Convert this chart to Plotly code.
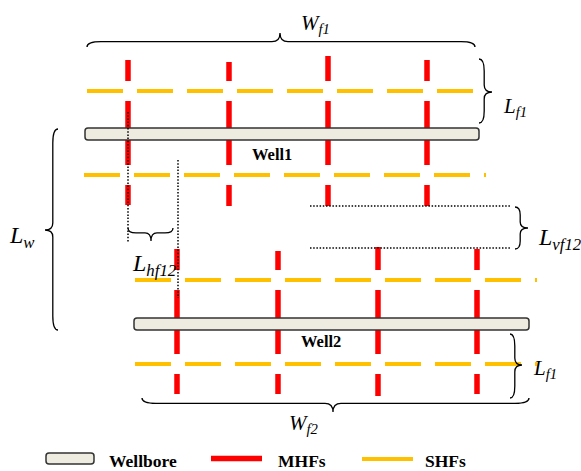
import plotly.graph_objects as go

# ---- schematic data (pixel-space units of the drawing) ----
well_names = ["Well1", "Well2"]
well_x0 = [85, 134]
well_x1 = [479, 529]
well_y0 = [128, 318]
well_y1 = [140, 330]
well_label_xy = [(272, 154), (321, 341)]

mhf_x = [[128, 229, 328, 427], [177, 278, 378, 477]]
mhf_top = [[60, 62, 56, 60], [249, 251, 247, 249]]
mhf_bot = [[205, 206, 206, 206], [394, 394, 396, 394]]

shf_well = [0, 0, 1, 1]
shf_y = [91, 175, 280, 364]
shf_x0 = [87, 84, 135, 135]
shf_x1 = [473, 486, 537, 537]
shf_dash = 36
shf_period = 50
mhf_half_gap = 10

RED = "#FF0000"
YEL = "#FFC000"
WB_FILL = "#EEEBE0"
WB_LINE = "#333333"
FONT = "Liberation Serif, Times New Roman, serif"

shapes = []


def seg(x0, y0, x1, y1, color, width, dash="solid"):
    shapes.append(dict(type="line", xref="x", yref="y", x0=x0, y0=y0, x1=x1, y1=y1,
                       line=dict(color=color, width=width, dash=dash)))


def rrect(x0, y0, x1, y1, r=3):
    p = (f"M{x0+r},{y0} L{x1-r},{y0} Q{x1},{y0} {x1},{y0+r} L{x1},{y1-r} "
         f"Q{x1},{y1} {x1-r},{y1} L{x0+r},{y1} Q{x0},{y1} {x0},{y1-r} "
         f"L{x0},{y0+r} Q{x0},{y0} {x0+r},{y0} Z")
    shapes.append(dict(type="path", xref="x", yref="y", path=p, fillcolor=WB_FILL,
                       line=dict(color=WB_LINE, width=1.5)))


def hbrace(x0, x1, ye, yt, xm, q=14, q2=8):
    ym = ye + (yt - ye) * 0.38
    p = (f"M{x0},{ye} Q{x0},{ym} {x0+q},{ym} L{xm-q2},{ym} Q{xm},{ym} {xm},{yt} "
         f"Q{xm},{ym} {xm+q2},{ym} L{x1-q},{ym} Q{x1},{ym} {x1},{ye}")
    shapes.append(dict(type="path", xref="x", yref="y", path=p,
                       line=dict(color="black", width=1.3)))


def vbrace(y0, y1, xe, xt, ym, q=12, q2=7):
    xm = xe + (xt - xe) * 0.4
    p = (f"M{xe},{y0} Q{xm},{y0} {xm},{y0+q} L{xm},{ym-q2} Q{xm},{ym} {xt},{ym} "
         f"Q{xm},{ym} {xm},{ym+q2} L{xm},{y1-q} Q{xm},{y1} {xe},{y1}")
    shapes.append(dict(type="path", xref="x", yref="y", path=p,
                       line=dict(color="black", width=1.3)))


# SHFs (dashed yellow rows)
for y, a, b in zip(shf_y, shf_x0, shf_x1):
    s = a
    while s < b:
        seg(s, y, min(s + shf_dash, b), y, YEL, 4)
        s += shf_period

# MHFs (red, interrupted at the SHF rows)
for w in range(2):
    rows = sorted(y for y, k in zip(shf_y, shf_well) if k == w)
    for x, t, bt in zip(mhf_x[w], mhf_top[w], mhf_bot[w]):
        cur = t
        for ry in rows:
            seg(x, cur, x, ry - mhf_half_gap, RED, 5.5)
            cur = ry + mhf_half_gap
        seg(x, cur, x, bt, RED, 5.5)

# wellbores
for i in range(2):
    rrect(well_x0[i], well_y0[i], well_x1[i], well_y1[i])

# dotted guide lines
DOT = "1.5px,1.7px"
seg(128, 112, 128, 243, "black", 1.5, DOT)
seg(178, 160, 178, 298, "black", 1.5, DOT)
seg(310, 206, 510, 206, "black", 1.5, DOT)
seg(310, 248, 510, 248, "black", 1.5, DOT)

# braces
hbrace(87, 475, 47, 33, 280)
vbrace(59, 123, 479, 492, 92)
vbrace(129, 330, 58, 45, 230, q=14)
hbrace(128, 173, 228, 241, 151, q=8, q2=6)
vbrace(207, 249, 515, 528, 228, q=8, q2=6)
vbrace(334, 398, 510, 522, 365)
hbrace(142, 529, 398, 412, 333)

# legend
rrect(46, 453, 94, 464)
seg(211, 458.5, 262, 458.5, RED, 5.5)
seg(362, 459, 413, 459, YEL, 4)

annotations = []


def txt(x, y, s, size, anchor="left"):
    annotations.append(dict(x=x, y=y, xref="x", yref="y", text=s, showarrow=False,
                            xanchor=anchor, yanchor="middle",
                            font=dict(family=FONT, size=size, color="black")))


for name, (lx, ly) in zip(well_names, well_label_xy):
    txt(lx, ly, f"<b>{name}</b>", 16.5, "center")

txt(107, 461, "<b>Wellbore</b>", 17.5)
txt(276, 461, "<b>MHFs</b>", 17.5)
txt(423, 461, "<b>SHFs</b>", 17.5)

txt(299, 24, "<i>W</i><sub><i>f1</i></sub>", 21)
txt(501, 107, "<i>L</i><sub><i>f1</i></sub>", 21)
txt(531, 369, "<i>L</i><sub><i>f1</i></sub>", 21)
txt(287, 424, "<i>W</i><sub><i>f2</i></sub>", 21)
txt(7, 237, "<i>L</i><sub><i>w</i></sub>", 24)
txt(130, 265, "<i>L</i><sub><i>hf12</i></sub>", 24)
txt(536, 239, "<i>L</i><sub><i>vf12</i></sub>", 24)

fig = go.Figure()
fig.update_layout(
    width=581, height=471,
    margin=dict(l=0, r=0, t=0, b=0),
    paper_bgcolor="white", plot_bgcolor="white",
    xaxis=dict(range=[0, 581], visible=False, fixedrange=True),
    yaxis=dict(range=[471, 0], visible=False, fixedrange=True),
    shapes=shapes, annotations=annotations, showlegend=False,
)
fig.write_html("out.html", config={"displayModeBar": False},
               post_script="document.body.style.margin='0';document.body.style.overflow='hidden';")
